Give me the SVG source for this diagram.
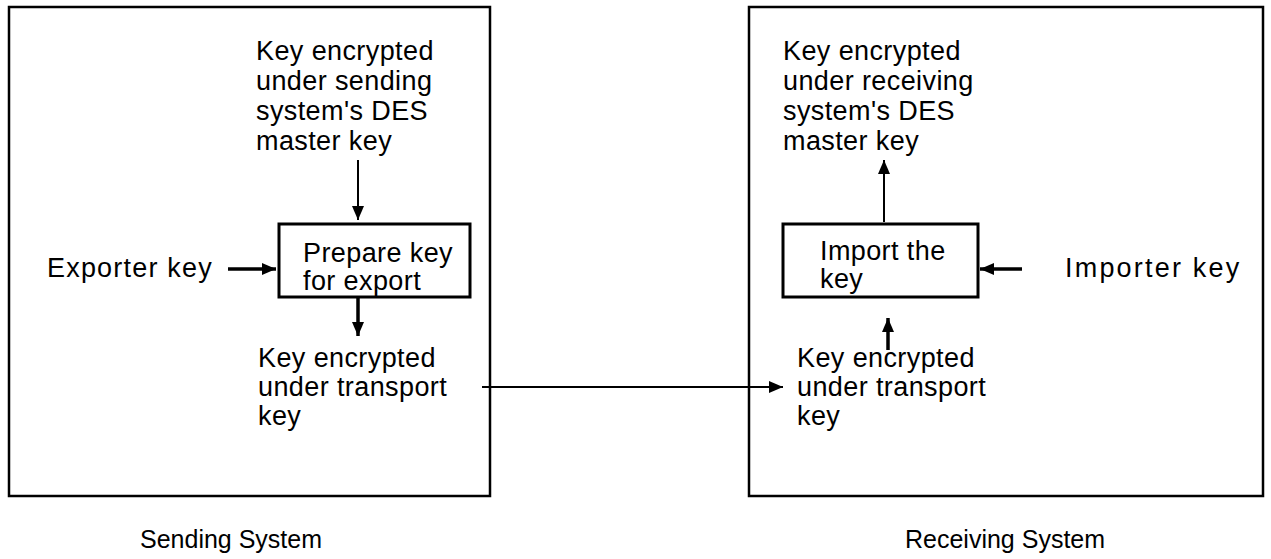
<svg xmlns="http://www.w3.org/2000/svg" width="1271" height="559" viewBox="0 0 1271 559">
<style>
text{font-family:"Liberation Sans",Arial,sans-serif;font-size:27px;fill:#000;letter-spacing:0.4px}
text.label{font-size:25px;letter-spacing:0}
text.wide{letter-spacing:1.2px}
text.wider{letter-spacing:2.2px}
.outer{fill:none;stroke:#000;stroke-width:2.5}
.inner{fill:none;stroke:#000;stroke-width:3}
.line{fill:none;stroke:#000;stroke-width:2}
.thick{fill:none;stroke:#000;stroke-width:3.5}
</style>
<defs>
<marker id="ah" viewBox="0 0 14 12" refX="14" refY="6" markerWidth="14" markerHeight="12" markerUnits="userSpaceOnUse" orient="auto">
<path d="M0,0 L14,6 L0,12 Z" fill="#000"/>
</marker>
</defs>
<g id="sending-system">
<rect class="outer" x="9" y="7" width="481" height="489"/>
<text class="label" x="140" y="548">Sending System</text>
</g>
<g id="receiving-system">
<rect class="outer" x="749" y="7" width="514" height="489"/>
<text class="label" x="905" y="548">Receiving System</text>
</g>
<g id="sending-master-key">
<text x="256" y="60">Key encrypted</text>
<text x="256" y="90">under sending</text>
<text x="256" y="120">system's DES</text>
<text x="256" y="150">master key</text>
</g>
<g id="exporter-key">
<text class="wide" x="47" y="277">Exporter key</text>
</g>
<g id="prepare">
<rect class="inner" x="279" y="224" width="191" height="73"/>
<text x="303" y="262">Prepare key</text>
<text x="303" y="290">for export</text>
</g>
<g id="sending-transport-key">
<text x="258" y="367">Key encrypted</text>
<text x="258" y="396">under transport</text>
<text x="258" y="425">key</text>
</g>
<g id="receiving-master-key">
<text x="783" y="60">Key encrypted</text>
<text x="783" y="90">under receiving</text>
<text x="783" y="120">system's DES</text>
<text x="783" y="150">master key</text>
</g>
<g id="import">
<rect class="inner" x="783" y="224" width="195" height="73"/>
<text x="820" y="260">Import the</text>
<text x="820" y="288">key</text>
</g>
<g id="importer-key">
<text class="wider" x="1065" y="277">Importer key</text>
</g>
<g id="receiving-transport-key">
<text x="797" y="367">Key encrypted</text>
<text x="797" y="396">under transport</text>
<text x="797" y="425">key</text>
</g>
<g id="connectors">
<line class="line" x1="358" y1="160" x2="358" y2="220" marker-end="url(#ah)"/>
<line class="thick" x1="228" y1="269" x2="276" y2="269" marker-end="url(#ah)"/>
<line class="thick" x1="358" y1="298" x2="358" y2="336" marker-end="url(#ah)"/>
<line class="line" x1="482" y1="387" x2="783" y2="387" marker-end="url(#ah)"/>
<line class="line" x1="884" y1="222" x2="884" y2="160" marker-end="url(#ah)"/>
<line class="thick" x1="1022" y1="269" x2="980" y2="269" marker-end="url(#ah)"/>
<line class="thick" x1="888" y1="350" x2="888" y2="318" marker-end="url(#ah)"/>
</g>
</svg>
